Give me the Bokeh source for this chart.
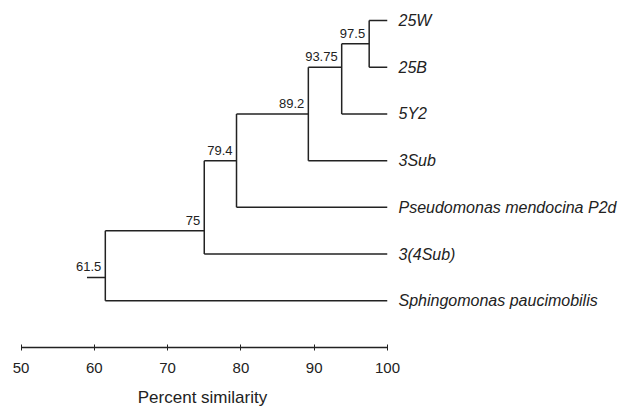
from bokeh.plotting import figure
from bokeh.models import Range1d, LinearAxis, FixedTicker, ColumnDataSource
from bokeh.core.properties import value
from bokeh.embed import file_html
from bokeh.resources import INLINE

# ---- data ----
leaf_names = ["25W", "25B", "5Y2", "3Sub", "Pseudomonas mendocina P2d",
              "3(4Sub)", "Sphingomonas paucimobilis"]
leaf_y = [0, 1, 2, 3, 4, 5, 6]
leaf_x = [100, 100, 100, 100, 100, 100, 100]

node_sim = [97.5, 93.75, 89.2, 79.4, 75.0, 61.5]
node_text = ["97.5", "93.75", "89.2", "79.4", "75", "61.5"]
node_y = [0.5, 1.0, 2.0, 3.0, 4.5, 5.5]
# children of each node: ("L", leaf index) or ("N", node index)
node_children = [
    [("L", 0), ("L", 1)],
    [("N", 0), ("L", 2)],
    [("N", 1), ("L", 3)],
    [("N", 2), ("L", 4)],
    [("N", 3), ("L", 5)],
    [("N", 4), ("L", 6)],
]
root_stub_start = 59.0
axis_ticks = [50, 60, 70, 80, 90, 100]
axis_title = "Percent similarity"

# ---- build segments ----
x0, y0, x1, y1 = [], [], [], []
def pos(ch):
    kind, i = ch
    return (leaf_x[i], leaf_y[i]) if kind == "L" else (node_sim[i], node_y[i])

for k, children in enumerate(node_children):
    ys = [pos(c)[1] for c in children]
    x0.append(node_sim[k]); x1.append(node_sim[k]); y0.append(min(ys)); y1.append(max(ys))
    for c in children:
        cx, cy = pos(c)
        x0.append(node_sim[k]); x1.append(cx); y0.append(cy); y1.append(cy)
x0.append(root_stub_start); x1.append(node_sim[-1]); y0.append(node_y[-1]); y1.append(node_y[-1])

seg = ColumnDataSource(dict(x0=x0, y0=y0, x1=x1, y1=y1))
lab = ColumnDataSource(dict(x=node_sim, y=node_y, t=node_text))

FONT = "Liberation Sans"
INK = "#222222"

p = figure(width=637, height=410, output_backend="svg", toolbar_location=None,
           x_range=Range1d(49.52, 100), y_range=Range1d(7.0, -0.257),
           x_axis_location=None, y_axis_location=None,
           min_border_left=17, min_border_right=250, min_border_top=8,
           min_border_bottom=63)
p.outline_line_color = None
p.xgrid.visible = False
p.ygrid.visible = False
p.background_fill_color = "white"
p.border_fill_color = "white"

p.segment("x0", "y0", "x1", "y1", source=seg, line_color=INK, line_width=1.5)
p.text("x", "y", text="t", source=lab, text_align="right", text_baseline="bottom",
       x_offset=-4, y_offset=-6, text_font=value(FONT), text_font_size="13px",
       text_color=INK)

# bottom similarity axis
xa = LinearAxis(ticker=FixedTicker(ticks=axis_ticks), bounds=(50, 100))
xa.axis_line_color = INK
xa.axis_line_width = 1.3
xa.major_tick_line_color = INK
xa.major_tick_in = 3
xa.major_tick_out = 3
xa.minor_tick_line_color = None
xa.major_label_standoff = 12
xa.major_label_text_font = FONT
xa.major_label_text_font_size = "15px"
xa.major_label_text_color = INK
xa.axis_label = axis_title
xa.axis_label_standoff = 12
xa.axis_label_text_font = FONT
xa.axis_label_text_font_size = "17px"
xa.axis_label_text_font_style = "normal"
xa.axis_label_text_color = INK
p.add_layout(xa, "below")

# leaf names as right-hand axis labels
ya = LinearAxis(ticker=FixedTicker(ticks=leaf_y),
                major_label_overrides={y: n for y, n in zip(leaf_y, leaf_names)})
ya.axis_line_color = None
ya.major_tick_line_color = None
ya.minor_tick_line_color = None
ya.major_label_standoff = 5
ya.major_label_text_font = FONT
ya.major_label_text_font_size = "16px"
ya.major_label_text_font_style = "italic"
ya.major_label_text_color = INK
p.add_layout(ya, "right")

open("out.html", "w").write(file_html(p, INLINE))
